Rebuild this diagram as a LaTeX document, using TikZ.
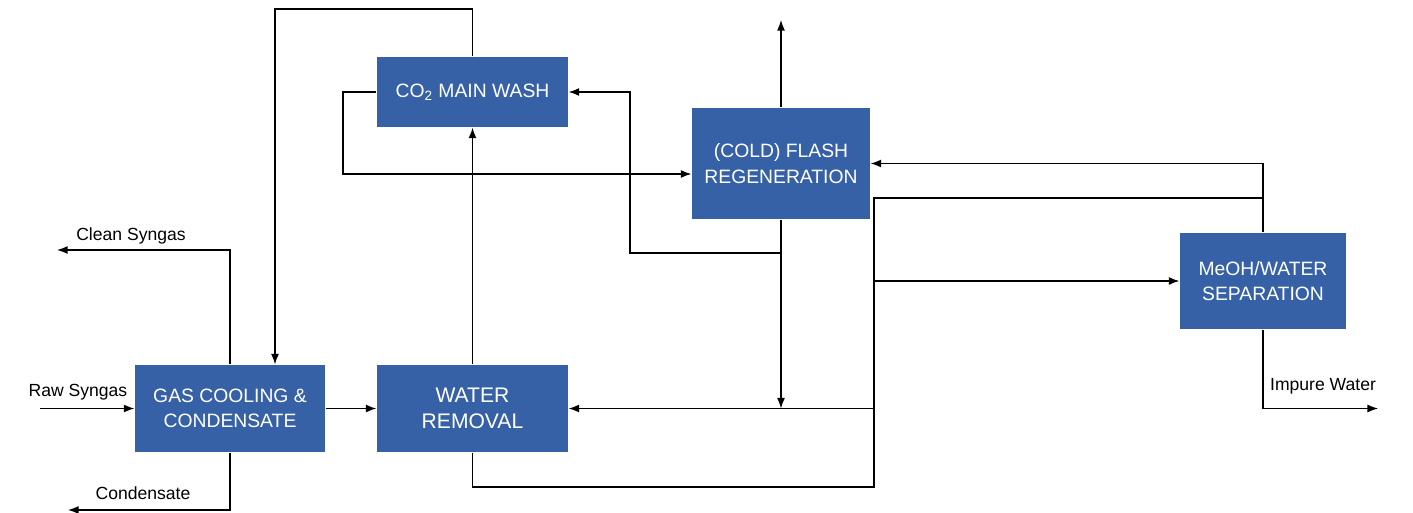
\documentclass[tikz,border=0pt]{standalone}
\usepackage{fontspec}
\setmainfont{Liberation Sans}
\usetikzlibrary{positioning, arrows.meta}
\definecolor{boxblue}{RGB}{55,97,166}

\begin{document}
\begin{tikzpicture}[x=0.02cm, y=-0.02cm, line width=0.7pt,
        >={Latex[length=6pt,width=4.5pt]},
        unit/.style={fill=boxblue, text=white, align=center, inner sep=0pt,
            font=\fontsize{11}{14.5}\selectfont},
        lbl/.style={font=\fontsize{10}{12}\selectfont, inner sep=0pt}]
                \useasboundingbox (0,0) rectangle (1413,513);

                \node[unit, minimum width=3.8cm, minimum height=1.74cm] (GC) at (230,408.5) {GAS COOLING \&\\CONDENSATE};
                \node[unit, minimum width=3.82cm, minimum height=1.74cm, font=\fontsize{12}{15}\selectfont] (WR) at (472.5,408.5) {WATER\\REMOVAL};
                \node[unit, minimum width=3.82cm, minimum height=1.4cm] (CW) at (472.5,92) {CO\textsubscript{2} MAIN WASH};
                \node[unit, minimum width=3.56cm, minimum height=2.22cm] (FR) at (781,163.5) {(COLD) FLASH\\REGENERATION};
                \node[unit, minimum width=3.32cm, minimum height=1.92cm] (MS) at (1263,281) {MeOH/WATER\\SEPARATION};

                \node[lbl] (Lraw) at (78,392) {Raw Syngas};
                \node[lbl] (Lclean) at (131,236) {Clean Syngas};
                \node[lbl] (Lcond) at (143,493) {Condensate};
                \node[lbl] (Limp) at (1323,386) {Impure Water};

                \coordinate (raw) at (40,408.5);
                \coordinate (clean) at (57,250);
                \coordinate (cond) at (68,510);
                \coordinate (vent) at (781,20);
                \coordinate (imp) at (1378,408.5);
                \coordinate (top) at (275,9);
                \coordinate (left) at (343,174);
                \coordinate (ret) at (630,253);
                \coordinate (rt) at (874,198);
                \coordinate (bt) at (874,487);

                \draw[->] (raw) -- (GC.west);
                \draw[->] (GC.north) |- (clean);
                \draw[->] (GC.south) |- (cond);
                \draw[->] (GC) -- (WR);
                \draw[->] (WR) -- (CW);
                \draw[->] (CW.north) |- (top) -- (top |- GC.north);
                \draw[->] (CW.west) -| (left) -- (left -| FR.west);
                \draw[->] (FR.south) |- (ret) -- (ret |- CW.east) -- (CW.east);
                \draw[->] (FR.north) -- (vent);
                \draw[->] (FR.south) -- (FR.south |- WR.east);
                \draw (WR.south) |- (bt) -- (rt) -- (rt -| MS.north);
                \draw[->] (MS.north) |- (FR.east);
                \draw[->] (rt |- MS.west) -- (MS.west);
                \draw[->] (rt |- WR.east) -- (WR.east);
                \draw[->] (MS.south) |- (imp);
            \end{tikzpicture}
\end{document}
